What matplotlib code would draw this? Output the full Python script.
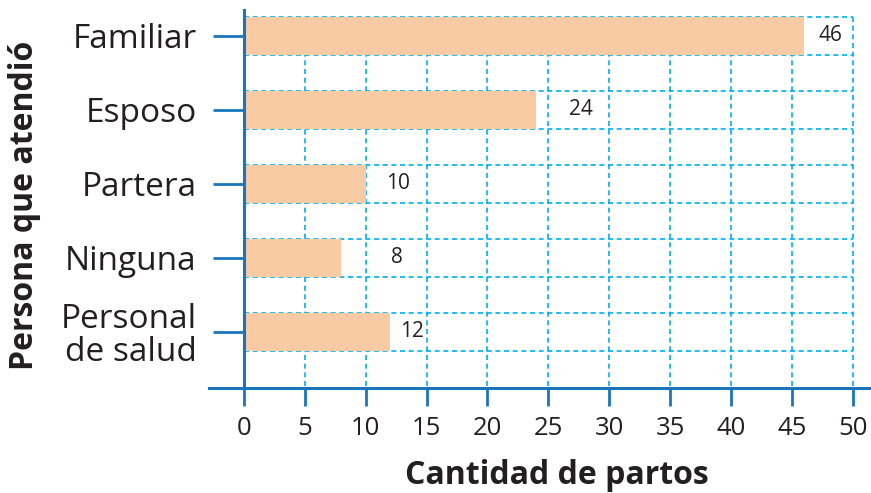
import matplotlib
matplotlib.use("Agg")
import matplotlib.pyplot as plt
import numpy as np

categories = ["Familiar", "Esposo", "Partera", "Ninguna", "Personal\nde salud"]
counts = [46, 24, 10, 8, 12]
# horizontal nudge of each value label past its bar end, in points
label_offsets = [19, 32, 23, 40, 16]
xticks = list(range(0, 55, 5))

BAR = "#f9cba4"
AXIS = "#1b75bc"
GRID = "#00aeef"
TEXT = "#231f20"

plt.rcParams["font.family"] = ["Open Sans", "DejaVu Sans"]

fig = plt.figure(figsize=(8.71, 4.93), dpi=100)
ax = fig.add_axes([209 / 871, 1 - 388 / 493, 662 / 871, 378 / 493])

ypos = np.arange(len(categories))
h = 0.515
ax.barh(ypos, counts, height=h, color=BAR, zorder=3)

# dashed grid: verticals at each tick, horizontals along bar edges
dash = (0, (3, 2.2))
top = ypos[0] - h / 2
ax.vlines(xticks[1:], top, 4.76, colors=GRID, linestyles=dash, lw=1.2, zorder=1)
edges = np.concatenate([ypos - h / 2, ypos + h / 2])
ax.hlines(edges, 0, 50, colors=GRID, linestyles=dash, lw=1.2, zorder=1)

for y, v, off in zip(ypos, counts, label_offsets):
    ax.annotate(str(v), (v, y), xytext=(off, 0), textcoords="offset points",
                ha="center", va="center", fontsize=15, color=TEXT, zorder=4)

ax.set_xlim(-2.87, 51.5)
ax.set_ylim(4.76, -0.35)
ax.spines[["top", "right"]].set_visible(False)
ax.spines["left"].set_position(("data", 0))
for s in ("left", "bottom"):
    ax.spines[s].set_color(AXIS)
    ax.spines[s].set_linewidth(2.2)
    ax.spines[s].set_zorder(5)

ax.set_xticks(xticks)
ax.set_xticklabels([str(t) for t in xticks])
ax.set_yticks(ypos)
ax.set_yticklabels(categories, linespacing=1.0)
ax.tick_params(axis="x", length=13, width=2.0, color=AXIS, pad=7,
               labelsize=18.5, labelcolor=TEXT)
ax.tick_params(axis="y", length=22, width=2.0, color=AXIS, pad=12,
               labelsize=24, labelcolor=TEXT)

fig.text(557 / 871, 1 - 476 / 493, "Cantidad de partos", ha="center", va="center",
         fontsize=23, fontweight="bold", color=TEXT)
fig.text(25 / 871, 1 - 205 / 493, "Persona que atendió", ha="center", va="center",
         rotation=90, fontsize=23, fontweight="bold", color=TEXT)

fig.savefig("out.png", dpi=100)
